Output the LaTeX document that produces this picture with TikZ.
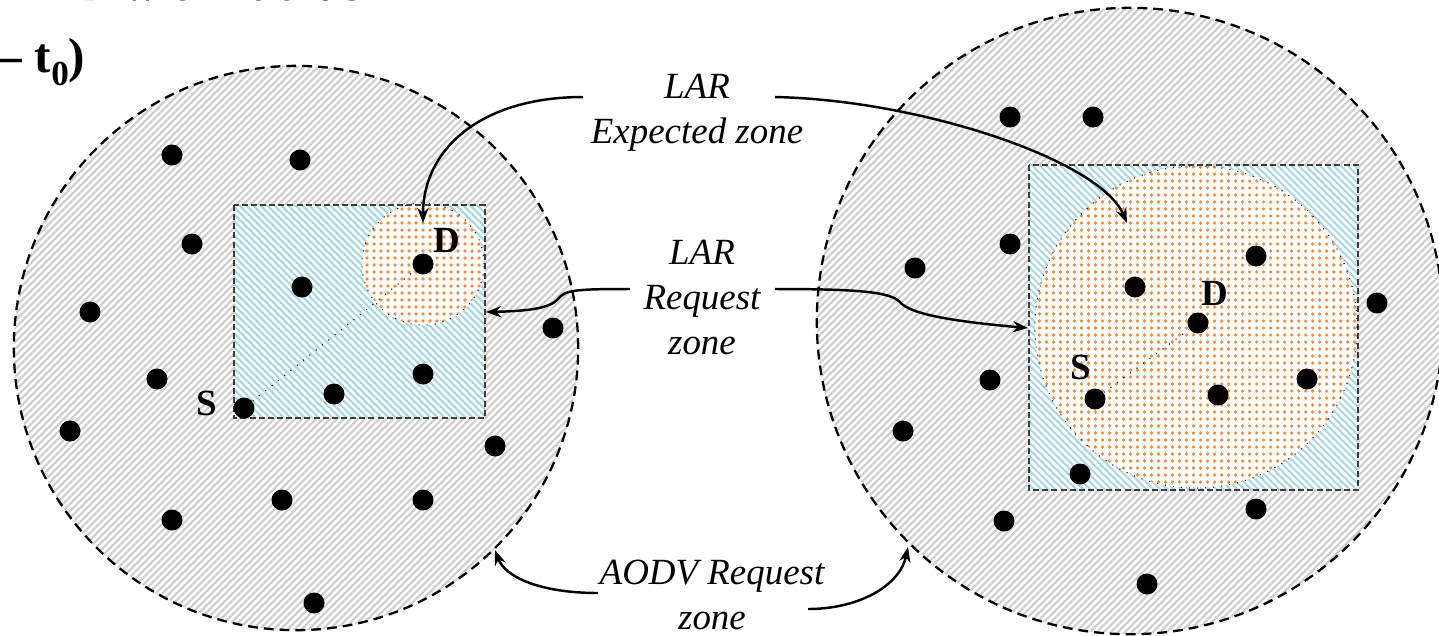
\documentclass[tikz,border=0pt]{standalone}
\usepackage{fontspec}
\setmainfont{Liberation Serif}
\usetikzlibrary{positioning,arrows.meta}
\definecolor{zonegray}{RGB}{208,208,208}
\definecolor{zoneblue}{RGB}{168,216,228}
\definecolor{zoneorange}{RGB}{242,140,62}
\definecolor{rectline}{RGB}{60,60,60}
\tikzset{
  nd/.style={circle, fill=black, inner sep=0pt, minimum size=2.1mm},
  tag/.style={font=\fontsize{10.5}{12.6}\selectfont\bfseries, inner sep=0pt},
  lbl/.style={font=\fontsize{10.5}{12.8}\selectfont\itshape, align=center, inner sep=0pt},
  head/.style={font=\fontsize{14}{16}\selectfont\bfseries, inner sep=0pt, anchor=base east},
  aodvline/.style={draw=black, dash pattern=on 2.8pt off 1.7pt, line width=0.65pt},
  larline/.style={draw=rectline, dash pattern=on 1.7pt off 0.9pt, line width=0.45pt},
  expline/.style={draw=black, dotted, line width=0.3pt},
  graystripe/.style={draw=zonegray, line width=0.62pt},
  bluestripe/.style={draw=zoneblue, line width=0.6pt},
  orangedots/.style={draw=zoneorange, line width=1.05pt, line cap=round,
    dash pattern=on 0pt off 0.07cm},
  ptr/.style={-{Stealth[length=4.3pt, width=3.2pt]}, line width=0.7pt, draw=black},
}
\begin{document}
\begin{tikzpicture}[x=0.01cm, y=-0.01cm]
  \useasboundingbox (0,0) rectangle (1439,635);

  % AODV request zones
  \begin{scope}
    \clip (296,348) circle[radius=2.82cm] (1130,321) circle[radius=3.13cm];
    \foreach \c in {238,245,...,1900} \draw[graystripe] (\c-700,700) -- (\c,0);
  \end{scope}

  % LAR request zones
  \fill[white] (234,205) rectangle (485,418) (1029,165) rectangle (1358,490);
  \begin{scope}
    \clip (234,205) rectangle (485,418) (1029,165) rectangle (1358,490);
    \foreach \c in {-190,-183,...,1200} \draw[bluestripe] (\c,0) -- (\c+700,700);
  \end{scope}

  % LAR expected zones
  \fill[white] (423,264) circle[radius=0.61cm] (1196,327) circle[radius=1.61cm];
  \begin{scope}
    \clip (423,264) circle[radius=0.61cm] (1196,327) circle[radius=1.61cm];
    \foreach \r in {160,167,...,496} \draw[orangedots] (360,\r) -- (1365,\r);
  \end{scope}

  \draw[aodvline] (296,348) circle[radius=2.82cm];
  \draw[aodvline] (1130,321) circle[radius=3.13cm];
  \draw[larline] (234,205) rectangle (485,418);
  \draw[larline] (1029,165) rectangle (1358,490);
  \draw[expline] (423,264) circle[radius=0.61cm];
  \draw[expline] (1196,327) circle[radius=1.61cm];

  % nodes
  \foreach \x/\y/\n in {172/155/l1, 300/160/l2, 192/244/l3, 302/287/l4,
      90/312/l5, 157/379/l6, 70/431/l7, 334/394/l8, 423/374/l9, 553/328/l10,
      495/446/l11, 282/500/l12, 423/500/l13, 172/520/l14, 314/603/l15}
    \node[nd] (\n) at (\x,\y) {};
  \foreach \x/\y/\n in {1010/117/r1, 1093/117/r2, 1010/244/r3, 915/268/r4,
      1135/287/r5, 1256/256/r6, 1377/303/r7, 990/380/r8, 1218/395/r9,
      1307/379/r10, 903/431/r11, 1080/474/r12, 1004/521/r13, 1256/509/r14,
      1147/584/r15}
    \node[nd] (\n) at (\x,\y) {};
  \node[nd] (sL) at (244,408) {};
  \node[nd] (dL) at (423,264) {};
  \node[nd] (sR) at (1095,399) {};
  \node[nd] (dR) at (1198,323) {};
  \draw[expline] (sL) -- (dL);
  \draw[expline] (sR) -- (dR);
  \node[tag] (sLt) at (207,403) {S};
  \node[tag] (dLt) at (447,240) {D};
  \node[tag] (sRt) at (1081,367) {S};
  \node[tag] (dRt) at (1215,293) {D};

  % labels
  \node[head] (hdr) at (398,0) {d in D with radius r};
  \node[head] (rad) at (86,72) {– t\raisebox{-3.7pt}{\fontsize{10}{12}\selectfont 0})};
  \node[lbl] (expz) at (697,113) {LAR\\Expected zone};
  \node[lbl] (reqz) at (702,297) {LAR\\Request\\zone};
  \node[lbl] (aodvz) at (712,595) {AODV Request\\zone};

  % pointers
  \coordinate (expA) at (583,97);   \coordinate (expB) at (775,97);
  \coordinate (reqA) at (630,289);  \coordinate (reqB) at (775,289);
  \coordinate (aodvA) at (598,593); \coordinate (aodvB) at (808,609);
  \coordinate (inL) at (423,223);   \coordinate (inR) at (1127,223);
  \coordinate (boxL) at (486,312);  \coordinate (boxR) at (1028,328);
  \coordinate (rimL) at (495,550);  \coordinate (rimR) at (908,547);
  \draw[ptr] (expA) .. controls (480,97) and (423,150) .. (inL);
  \draw[ptr] (expB) .. controls (920,100) and (1100,160) .. (inR);
  \draw[ptr] (reqA) .. controls (575,289) and (565,290) .. (558,299)
    .. controls (550,308) and (530,311) .. (boxL);
  \draw[ptr] (reqB) .. controls (860,289) and (890,292) .. (900,302)
    .. controls (910,315) and (960,322) .. (boxR);
  \draw[ptr] (aodvA) .. controls (540,593) and (505,577) .. (rimL);
  \draw[ptr] (aodvB) .. controls (860,609) and (900,585) .. (rimR);
\end{tikzpicture}
\end{document}
